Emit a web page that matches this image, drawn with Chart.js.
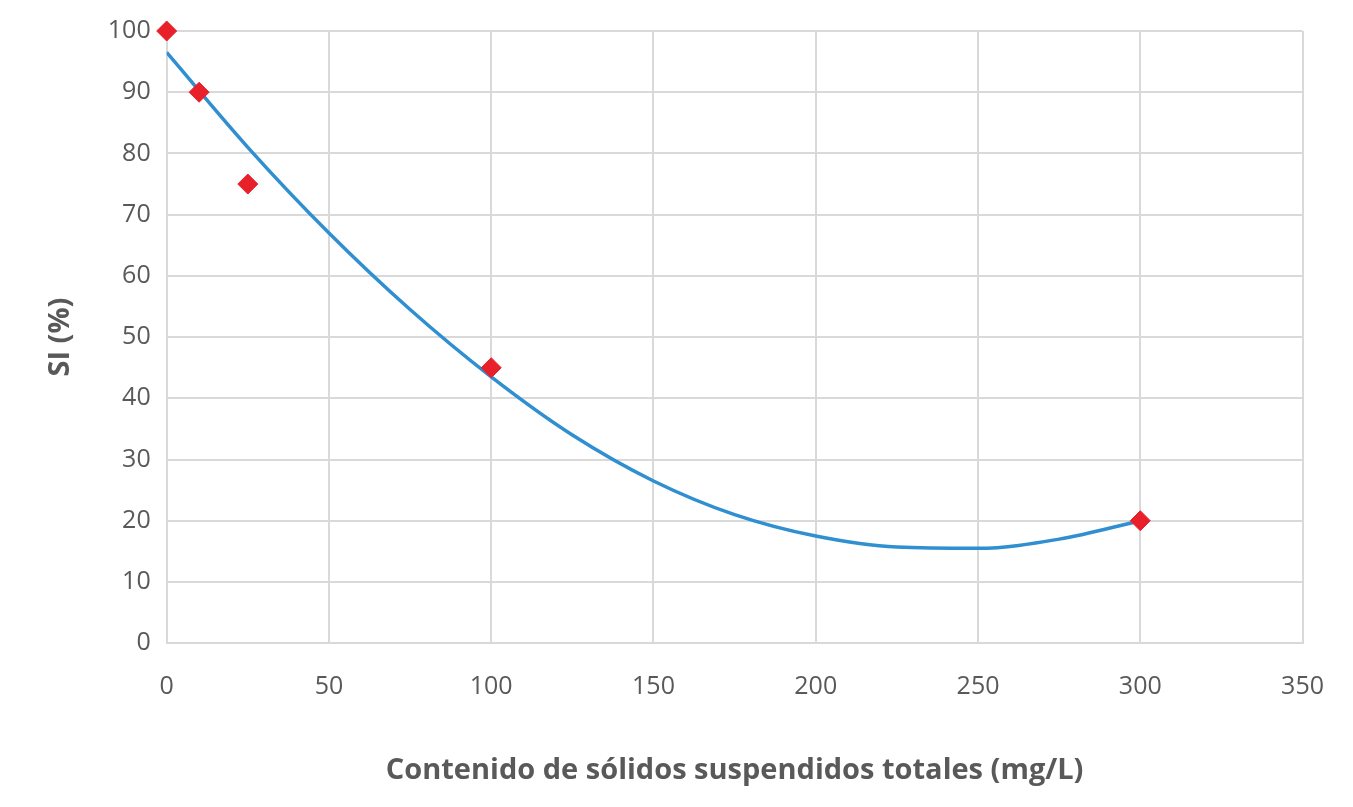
<!DOCTYPE html>
<html><head><meta charset="utf-8">
<script src="https://cdn.jsdelivr.net/npm/chart.js@4"></script>
<style>html,body{margin:0;padding:0;background:#fff}#w{width:1353px;height:807px}</style>
</head><body><div id="w"><canvas id="c"></canvas></div>
<script>
const obsX = [0, 10, 25, 100, 300];
const obsY = [100, 90, 75, 45, 20];
const trendX = [0, 25, 50, 75, 100, 125, 150, 175, 200, 225, 250, 275, 300];
const trendY = [96.5, 81, 67, 54.5, 43.5, 34, 26.5, 21, 17.5, 15.7, 15.5, 17, 20];
const xTicks = [0, 50, 100, 150, 200, 250, 300, 350];
const yTicks = [0, 10, 20, 30, 40, 50, 60, 70, 80, 90, 100];
const font = "'Open Sans', 'Liberation Sans', sans-serif";
new Chart(document.getElementById('c'), {
  type: 'scatter',
  data: { datasets: [
    { data: obsX.map((x,i)=>({x, y: obsY[i]})), pointStyle: 'rectRot', pointRadius: 10,
      backgroundColor: '#e8202a', borderColor: '#e8202a', order: 0, clip: false },
    { type: 'line', data: trendX.map((x,i)=>({x, y: trendY[i]})), showLine: true, pointRadius: 0,
      borderColor: '#2f8fd0', borderWidth: 3.5, cubicInterpolationMode: 'monotone', fill: false, order: 1 }
  ]},
  options: {
    responsive: true, maintainAspectRatio: false, animation: false,
    layout: { padding: { top: 14, right: 42, bottom: 15, left: 39 } },
    plugins: { legend: { display: false }, tooltip: { enabled: false } },
    scales: {
      x: { type: 'linear', min: 0, max: 350,
        afterBuildTicks: a => { a.ticks = xTicks.map(v=>({value:v})); },
        grid: { color: '#d9d9d9', lineWidth: 2, drawTicks: false },
        border: { color: '#d9d9d9', width: 2 },
        ticks: { color: '#595959', font: { family: font, size: 25 }, padding: 29 },
        title: { display: true, text: 'Contenido de sólidos suspendidos totales (mg/L)', color: '#595959',
          font: { family: font, size: 29, weight: 'bold' }, padding: { top: 22 } } },
      y: { min: 0, max: 100,
        afterBuildTicks: a => { a.ticks = yTicks.map(v=>({value:v})); },
        grid: { color: '#d9d9d9', lineWidth: 2, drawTicks: false },
        border: { color: '#d9d9d9', width: 2 },
        ticks: { color: '#595959', font: { family: font, size: 25 }, padding: 16 },
        title: { display: true, text: 'SI (%)', color: '#595959',
          font: { family: font, size: 29, weight: 'bold' }, padding: { bottom: 14 } } }
    }
  }
});
</script></body></html>
